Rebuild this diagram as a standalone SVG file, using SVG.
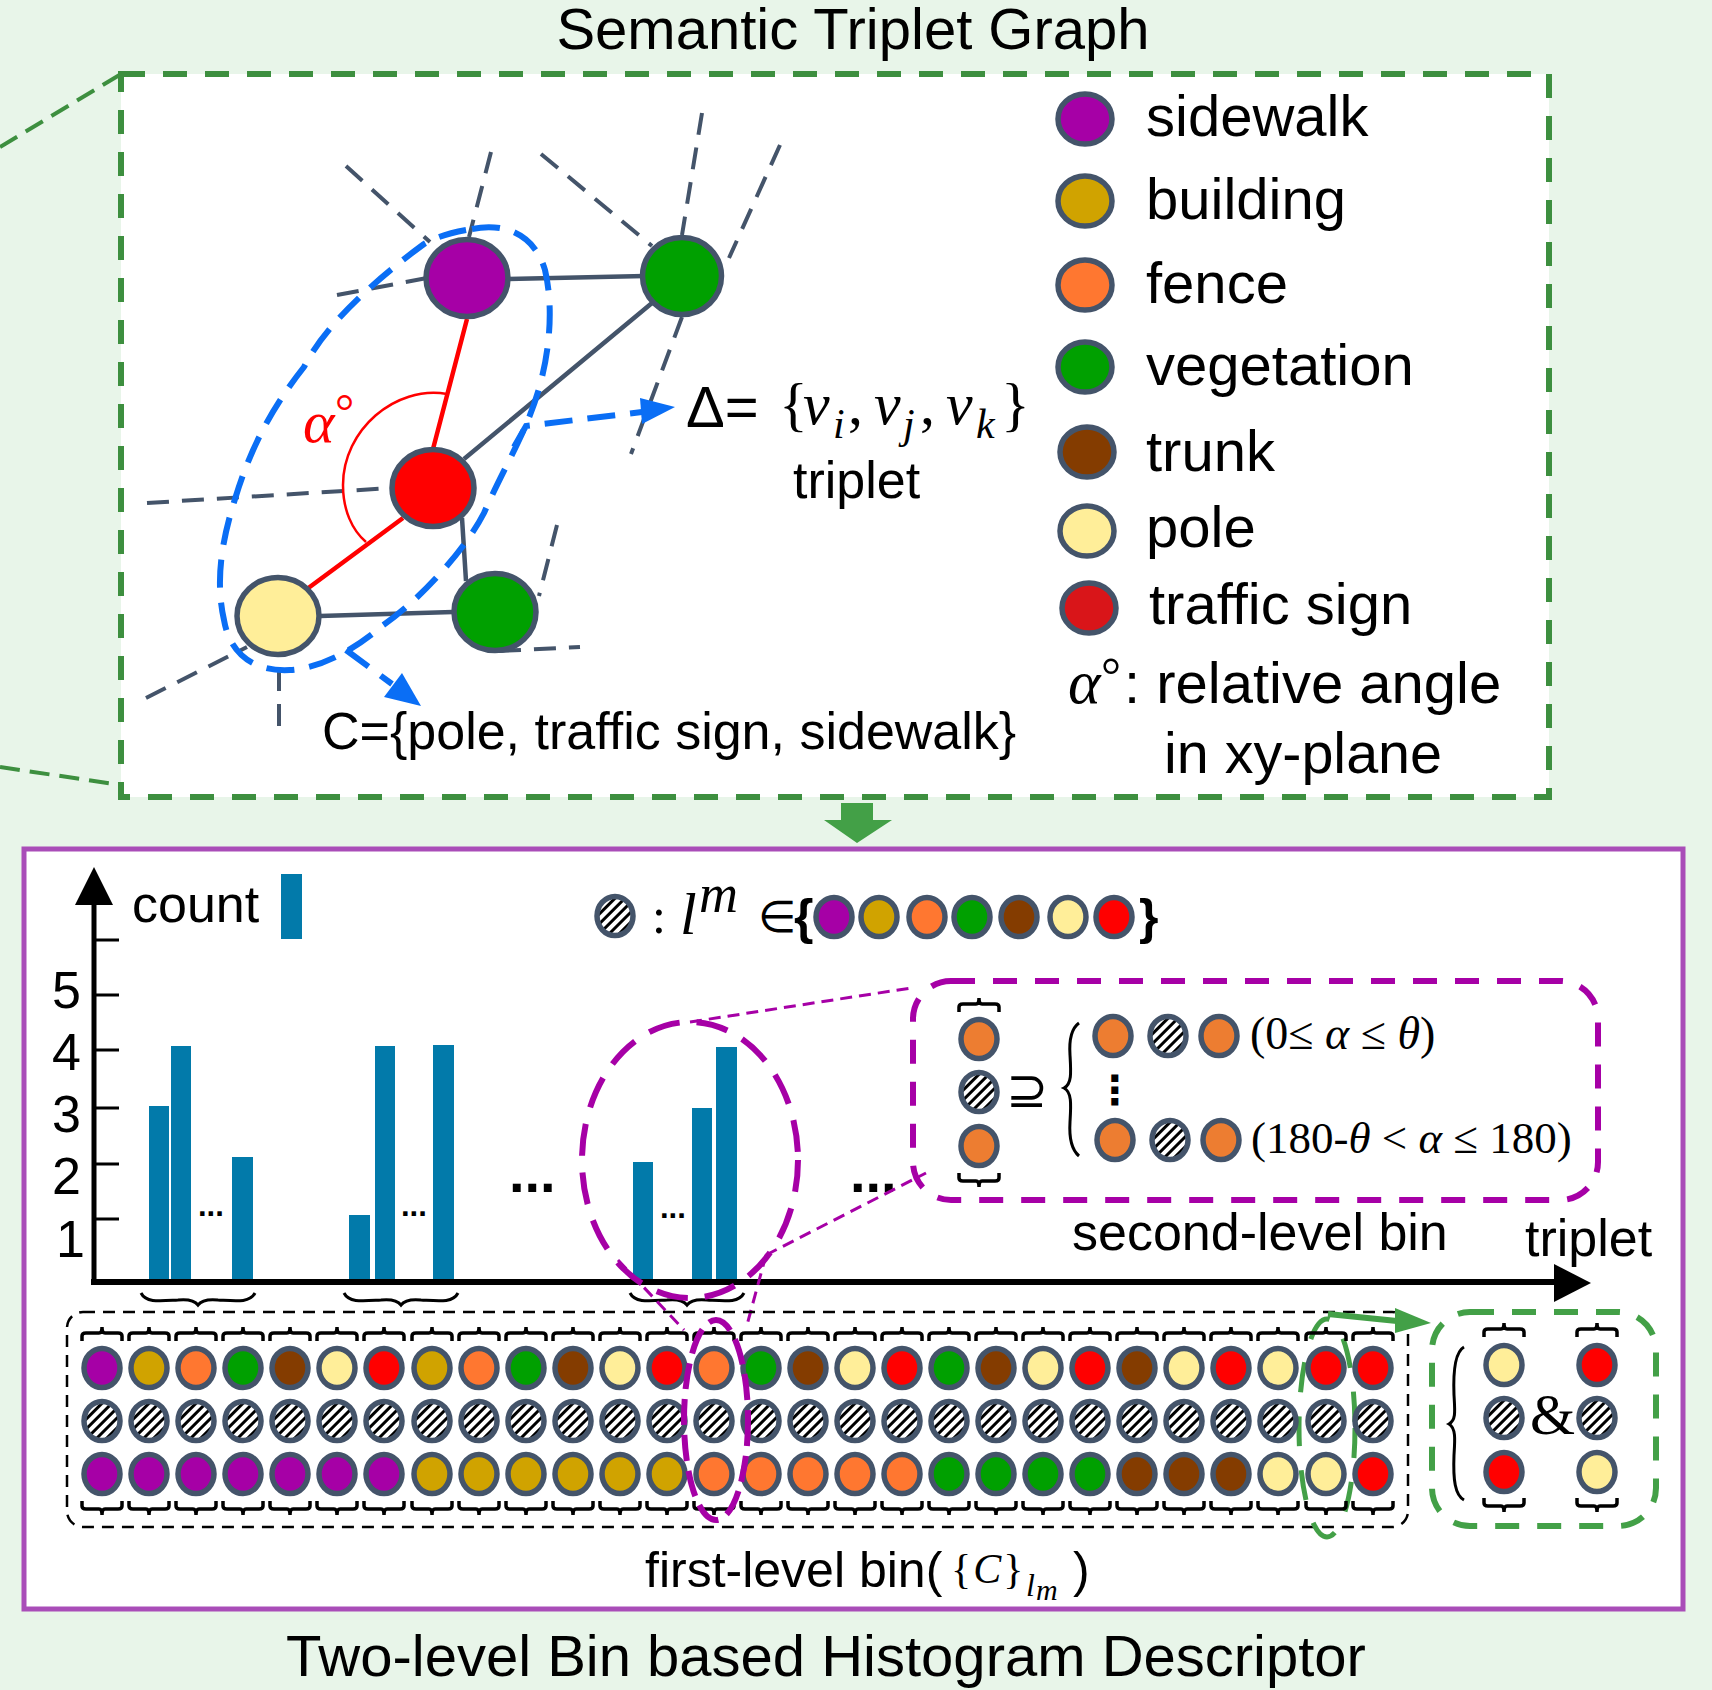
<svg xmlns="http://www.w3.org/2000/svg" width="1712" height="1690" viewBox="0 0 1712 1690">
<style>
text{font-family:"Liberation Sans",Arial,sans-serif;fill:#000}
.s{font-family:"Liberation Serif","Times New Roman",serif}
.i{font-style:italic}
.n{stroke:#44546a;stroke-width:5.5}
.sw{fill:#a600a6}.bd{fill:#d0a300}.fc{fill:#ff7730}.vg{fill:#00a000}.tr{fill:#843c00}.pl{fill:#ffee99}.ts{fill:#f00}.ht{fill:url(#h)}.oc{fill:#ed7d31}
.sl{stroke:#44546a;stroke-width:4.5;fill:none}
.sd{stroke:#44546a;stroke-width:4;fill:none;stroke-dasharray:22 13}
.rd{stroke:#f00;stroke-width:4.5;fill:none}
.bl{stroke:#0a6ef5;stroke-width:6;fill:none;stroke-dasharray:28 15}
.pd{stroke:#a600a6;fill:none}
.bar{fill:#027aaa}
.br{fill:none;stroke:#000;stroke-width:3.5}
.ub{fill:none;stroke:#000;stroke-width:3}
.t52{font-size:52px}.t58{font-size:58px}
</style>
<defs>
<pattern id="h" width="7" height="7" patternUnits="userSpaceOnUse" patternTransform="rotate(45)"><rect width="7" height="7" fill="#fff"/><rect width="3" height="7" fill="#000"/></pattern>
<ellipse id="d" rx="18" ry="19.5"/>
<ellipse id="l" rx="27" ry="25"/>
<path id="bt" class="br" d="M-20 14v-5q0-3 4-3h13q3 0 3-6q0 6 3 6h13q4 0 4 3v5"/>
<path id="bb" class="br" d="M-20 0v5q0 3 4 3h13q3 0 3 6q0-6 3-6h13q4 0 4-3v-5"/>
<path id="ub" class="ub" d="M-57 0C-52 10-38 8-20 7C-10 6-3 8 0 12C3 8 10 6 20 7C38 8 52 10 57 0"/>
</defs>
<rect width="1712" height="1690" fill="#e8f5e9"/>
<text x="853" y="49" font-size="58" text-anchor="middle">Semantic Triplet Graph</text>
<g id="top-panel">
<path d="M0 147L121 74M0 767L121 785" fill="none" stroke="#3d8f3f" stroke-width="4" stroke-dasharray="20 10"/>
<rect x="121" y="74" width="1428" height="723" fill="#fff" stroke="#3d8f3f" stroke-width="6" stroke-dasharray="24 18"/>
</g>
<g id="connectors">
<path class="sd" d="M346 166L430 242M491 152L469 237M541 154L652 246M702 113L682 235M780 145L729 258M337 295L427 278M682 317L631 454M147 503L392 488M557 525L539 596M499 651L580 647M146 698L247 647M279 669L279 728"/>
<path class="sl" d="M505 279L645 276M652 303L464 459M462 518L466 581M320 616L453 612"/>
<path class="rd" d="M467 319L433 449M403 518L307 589"/>
<path d="M447 394C395 385 343 430 343 485C343 510 352 530 366 542" fill="none" stroke="#f00" stroke-width="2.5"/>
<path class="bl" d="M472 229C505 222 535 235 545 270C552 300 552 340 540 385C528 430 505 465 484 513C465 550 420 600 382 626C360 645 325 668 290 670C255 672 230 655 224 620C215 580 222 540 235 499C250 450 270 410 304 367C325 325 375 280 424 244C440 235 455 232 472 229Z"/>
<path class="bl" d="M514 447L526 426L642 412"/>
<path d="M675 407L640 398L642 424Z" fill="#0a6ef5"/>
<path class="bl" d="M346 650L392 684"/>
<path d="M421 706L402 673L384 697Z" fill="#0a6ef5"/>
</g>
<g id="n-purple"><ellipse class="n sw" cx="467" cy="278" rx="41" ry="38.5"/></g>
<g id="n-green-a"><ellipse class="n vg" cx="682" cy="276" rx="39.5" ry="38.5"/></g>
<g id="n-red"><ellipse class="n ts" cx="433" cy="488" rx="41" ry="38.5"/></g>
<g id="n-pole"><ellipse class="n pl" cx="278" cy="616" rx="41" ry="38.5"/></g>
<g id="n-green-b"><ellipse class="n vg" cx="495" cy="612" rx="41" ry="38.5"/></g>
<text class="s i" x="303" y="442" font-size="60" style="fill:#f00">α</text>
<text class="s" x="335" y="428" font-size="48" style="fill:#f00">°</text>
<g id="delta">
<text x="686" y="427" font-size="58">Δ=</text>
<text class="s" font-size="60" y="424"><tspan x="779">{</tspan><tspan x="803" class="i">v</tspan><tspan x="833" dy="14" font-size="42" class="i">i</tspan><tspan x="848" dy="-14">,</tspan><tspan x="874" class="i">v</tspan><tspan x="903" dy="14" font-size="42" class="i">j</tspan><tspan x="920" dy="-14">,</tspan><tspan x="946" class="i">v</tspan><tspan x="976" dy="14" font-size="42" class="i">k</tspan><tspan x="1001" dy="-14">}</tspan></text>
</g>
<text class="t52" x="793" y="498">triplet</text>
<text class="t52" x="322" y="749">C={pole, traffic sign, sidewalk}</text>
<g id="legend">
<use href="#l" class="n sw" x="1085" y="119"/><text class="t58" x="1146" y="136">sidewalk</text>
<use href="#l" class="n bd" x="1085" y="201"/><text class="t58" x="1146" y="219">building</text>
<use href="#l" class="n fc" x="1085" y="285"/><text class="t58" x="1146" y="303">fence</text>
<use href="#l" class="n vg" x="1085" y="367"/><text class="t58" x="1146" y="385">vegetation</text>
<use href="#l" class="n tr" x="1087" y="452"/><text class="t58" x="1146" y="471">trunk</text>
<use href="#l" class="n pl" x="1087" y="531"/><text class="t58" x="1146" y="547">pole</text>
<use href="#l" class="n" style="fill:#d91519" x="1089" y="608"/><text class="t58" x="1149" y="624">traffic sign</text>
<text class="s i" x="1068" y="703" font-size="62">α</text><text class="s" x="1101" y="692" font-size="50">°</text>
<text class="t58" x="1124" y="703">: relative angle</text>
<text x="1164" y="773" font-size="57.5">in xy-plane</text>
</g>
<path id="down-arrow" d="M841 803H873V820H892L857 843L824 820H841Z" fill="#43a047"/>
<rect id="hist-panel" x="24" y="849" width="1659" height="760" fill="#fff" stroke="#a94db8" stroke-width="5"/>
<g id="chart">
<path d="M94 1282V900" stroke="#000" stroke-width="5" fill="none"/>
<path d="M94 867L113 905H75Z"/>
<path d="M94 940H119M94 995H119M94 1050H119M94 1108H119M94 1164H119M94 1219H119" stroke="#000" stroke-width="3" fill="none"/>
<path d="M91 1282H1560" stroke="#000" stroke-width="6" fill="none"/>
<path d="M1591 1283L1554 1264V1302Z"/>
<g class="t52"><text x="52" y="1008">5</text><text x="52" y="1070">4</text><text x="52" y="1132">3</text><text x="52" y="1194">2</text><text x="56" y="1257">1</text></g>
<rect class="bar" x="149" y="1106" width="20" height="173"/><rect class="bar" x="171" y="1046" width="20" height="233"/><rect class="bar" x="232" y="1157" width="21" height="122"/>
<rect class="bar" x="349" y="1215" width="21" height="64"/><rect class="bar" x="375" y="1046" width="20" height="233"/><rect class="bar" x="433" y="1045" width="21" height="234"/>
<rect class="bar" x="633" y="1162" width="20" height="117"/><rect class="bar" x="692" y="1108" width="20" height="171"/><rect class="bar" x="716" y="1047" width="21" height="232"/>
<rect class="bar" x="281" y="874" width="21" height="65"/>
<text class="t52" x="132" y="922">count</text>
<g font-weight="bold" font-size="31"><text x="198" y="1216">...</text><text x="401" y="1216">...</text><text x="660" y="1218">...</text></g>
<g font-weight="bold" font-size="56"><text x="509" y="1192">...</text><text x="850" y="1192">...</text></g>
<use href="#ub" x="198" y="1293"/><use href="#ub" x="401" y="1293"/><use href="#ub" x="687" y="1293"/>
</g>
<g id="key">
<use href="#d" class="n ht" x="615" y="916"/>
<text class="s" x="652" y="933" font-size="50">:</text>
<text class="s i" x="680" y="934" font-size="60">l</text>
<text class="s i" x="699" y="912" font-size="54">m</text>
<text class="s" x="758" y="932" font-size="44">∈</text>
<text x="794" y="934" font-size="50" font-weight="bold">{</text>
<use href="#d" class="n sw" x="834" y="917"/><use href="#d" class="n bd" x="879" y="917"/><use href="#d" class="n fc" x="927" y="917"/><use href="#d" class="n vg" x="972" y="917"/><use href="#d" class="n tr" x="1019" y="917"/><use href="#d" class="n pl" x="1068" y="917"/><use href="#d" class="n ts" x="1114" y="917"/>
<text x="1139" y="934" font-size="50" font-weight="bold">}</text>
</g>
<g id="second-level">
<ellipse class="pd" stroke-width="6" stroke-dasharray="32 17" cx="690" cy="1160" rx="108" ry="138"/>
<path class="pd" stroke-width="3" stroke-dasharray="12 7" d="M690 1022L911 988M766 1255L926 1173M766 1255L747 1325M618 1260L684 1330"/>
<rect class="pd" stroke-width="6" stroke-dasharray="24 18" x="913" y="981" width="685" height="219" rx="38"/>
<use href="#bt" x="979" y="998"/>
<use href="#d" class="n oc" x="979" y="1039"/><use href="#d" class="n ht" x="979" y="1092"/><use href="#d" class="n oc" x="979" y="1146"/>
<use href="#bb" x="979" y="1173"/>
<text x="1006" y="1107" font-size="50" style="font-family:'DejaVu Sans',sans-serif">⊇</text>
<path class="ub" stroke-width="2.5" d="M1079 1023C1072 1028 1069 1040 1070 1055C1071 1072 1072 1084 1064 1088C1072 1092 1071 1105 1070 1122C1069 1138 1072 1150 1079 1156"/>
<use href="#d" class="n oc" x="1113" y="1036"/><use href="#d" class="n ht" x="1168" y="1036"/><use href="#d" class="n oc" x="1219" y="1036"/>
<use href="#d" class="n oc" x="1115" y="1140"/><use href="#d" class="n ht" x="1170" y="1140"/><use href="#d" class="n oc" x="1221" y="1140"/>
<text x="1115" y="1104" font-size="40" text-anchor="middle" font-weight="bold" style="font-family:'DejaVu Sans',sans-serif">⋮</text>
<text class="s" x="1250" y="1049" font-size="46">(0≤ <tspan class="i">α</tspan> ≤ <tspan class="i">θ</tspan>)</text>
<text class="s" x="1251" y="1153" font-size="45">(180-<tspan class="i">θ</tspan> &lt; <tspan class="i">α</tspan> ≤ 180)</text>
<text class="t52" x="1072" y="1250">second-level bin</text>
<text class="t52" x="1525" y="1256">triplet</text>
</g>
<g id="first-level">
<rect x="67" y="1312" width="1341" height="215" rx="16" fill="none" stroke="#000" stroke-width="2.5" stroke-dasharray="12 8"/>
<ellipse cx="1327" cy="1428" rx="28" ry="109" fill="none" stroke="#43a047" stroke-width="5" stroke-dasharray="30 24"/>
<g id="row-1"><use href="#d" class="n sw" x="102" y="1368"/><use href="#d" class="n bd" x="149" y="1368"/><use href="#d" class="n fc" x="196" y="1368"/><use href="#d" class="n vg" x="243" y="1368"/><use href="#d" class="n tr" x="290" y="1368"/><use href="#d" class="n pl" x="337" y="1368"/><use href="#d" class="n ts" x="384" y="1368"/><use href="#d" class="n bd" x="432" y="1368"/><use href="#d" class="n fc" x="479" y="1368"/><use href="#d" class="n vg" x="526" y="1368"/><use href="#d" class="n tr" x="573" y="1368"/><use href="#d" class="n pl" x="620" y="1368"/><use href="#d" class="n ts" x="667" y="1368"/><use href="#d" class="n fc" x="714" y="1368"/><use href="#d" class="n vg" x="761" y="1368"/><use href="#d" class="n tr" x="808" y="1368"/><use href="#d" class="n pl" x="855" y="1368"/><use href="#d" class="n ts" x="902" y="1368"/><use href="#d" class="n vg" x="949" y="1368"/><use href="#d" class="n tr" x="996" y="1368"/><use href="#d" class="n pl" x="1043" y="1368"/><use href="#d" class="n ts" x="1090" y="1368"/><use href="#d" class="n tr" x="1137" y="1368"/><use href="#d" class="n pl" x="1184" y="1368"/><use href="#d" class="n ts" x="1231" y="1368"/><use href="#d" class="n pl" x="1278" y="1368"/><use href="#d" class="n ts" x="1326" y="1368"/><use href="#d" class="n ts" x="1373" y="1368"/></g>
<g id="row-2"><use href="#d" class="n ht" x="102" y="1421"/><use href="#d" class="n ht" x="149" y="1421"/><use href="#d" class="n ht" x="196" y="1421"/><use href="#d" class="n ht" x="243" y="1421"/><use href="#d" class="n ht" x="290" y="1421"/><use href="#d" class="n ht" x="337" y="1421"/><use href="#d" class="n ht" x="384" y="1421"/><use href="#d" class="n ht" x="432" y="1421"/><use href="#d" class="n ht" x="479" y="1421"/><use href="#d" class="n ht" x="526" y="1421"/><use href="#d" class="n ht" x="573" y="1421"/><use href="#d" class="n ht" x="620" y="1421"/><use href="#d" class="n ht" x="667" y="1421"/><use href="#d" class="n ht" x="714" y="1421"/><use href="#d" class="n ht" x="761" y="1421"/><use href="#d" class="n ht" x="808" y="1421"/><use href="#d" class="n ht" x="855" y="1421"/><use href="#d" class="n ht" x="902" y="1421"/><use href="#d" class="n ht" x="949" y="1421"/><use href="#d" class="n ht" x="996" y="1421"/><use href="#d" class="n ht" x="1043" y="1421"/><use href="#d" class="n ht" x="1090" y="1421"/><use href="#d" class="n ht" x="1137" y="1421"/><use href="#d" class="n ht" x="1184" y="1421"/><use href="#d" class="n ht" x="1231" y="1421"/><use href="#d" class="n ht" x="1278" y="1421"/><use href="#d" class="n ht" x="1326" y="1421"/><use href="#d" class="n ht" x="1373" y="1421"/></g>
<g id="row-3"><use href="#d" class="n sw" x="102" y="1474"/><use href="#d" class="n sw" x="149" y="1474"/><use href="#d" class="n sw" x="196" y="1474"/><use href="#d" class="n sw" x="243" y="1474"/><use href="#d" class="n sw" x="290" y="1474"/><use href="#d" class="n sw" x="337" y="1474"/><use href="#d" class="n sw" x="384" y="1474"/><use href="#d" class="n bd" x="432" y="1474"/><use href="#d" class="n bd" x="479" y="1474"/><use href="#d" class="n bd" x="526" y="1474"/><use href="#d" class="n bd" x="573" y="1474"/><use href="#d" class="n bd" x="620" y="1474"/><use href="#d" class="n bd" x="667" y="1474"/><use href="#d" class="n fc" x="714" y="1474"/><use href="#d" class="n fc" x="761" y="1474"/><use href="#d" class="n fc" x="808" y="1474"/><use href="#d" class="n fc" x="855" y="1474"/><use href="#d" class="n fc" x="902" y="1474"/><use href="#d" class="n vg" x="949" y="1474"/><use href="#d" class="n vg" x="996" y="1474"/><use href="#d" class="n vg" x="1043" y="1474"/><use href="#d" class="n vg" x="1090" y="1474"/><use href="#d" class="n tr" x="1137" y="1474"/><use href="#d" class="n tr" x="1184" y="1474"/><use href="#d" class="n tr" x="1231" y="1474"/><use href="#d" class="n pl" x="1278" y="1474"/><use href="#d" class="n pl" x="1326" y="1474"/><use href="#d" class="n ts" x="1373" y="1474"/></g>
<g id="braces-top"><use href="#bt" x="102" y="1327"/><use href="#bt" x="149" y="1327"/><use href="#bt" x="196" y="1327"/><use href="#bt" x="243" y="1327"/><use href="#bt" x="290" y="1327"/><use href="#bt" x="337" y="1327"/><use href="#bt" x="384" y="1327"/><use href="#bt" x="432" y="1327"/><use href="#bt" x="479" y="1327"/><use href="#bt" x="526" y="1327"/><use href="#bt" x="573" y="1327"/><use href="#bt" x="620" y="1327"/><use href="#bt" x="667" y="1327"/><use href="#bt" x="714" y="1327"/><use href="#bt" x="761" y="1327"/><use href="#bt" x="808" y="1327"/><use href="#bt" x="855" y="1327"/><use href="#bt" x="902" y="1327"/><use href="#bt" x="949" y="1327"/><use href="#bt" x="996" y="1327"/><use href="#bt" x="1043" y="1327"/><use href="#bt" x="1090" y="1327"/><use href="#bt" x="1137" y="1327"/><use href="#bt" x="1184" y="1327"/><use href="#bt" x="1231" y="1327"/><use href="#bt" x="1278" y="1327"/><use href="#bt" x="1326" y="1327"/><use href="#bt" x="1373" y="1327"/></g>
<g id="braces-bottom"><use href="#bb" x="102" y="1501"/><use href="#bb" x="149" y="1501"/><use href="#bb" x="196" y="1501"/><use href="#bb" x="243" y="1501"/><use href="#bb" x="290" y="1501"/><use href="#bb" x="337" y="1501"/><use href="#bb" x="384" y="1501"/><use href="#bb" x="432" y="1501"/><use href="#bb" x="479" y="1501"/><use href="#bb" x="526" y="1501"/><use href="#bb" x="573" y="1501"/><use href="#bb" x="620" y="1501"/><use href="#bb" x="667" y="1501"/><use href="#bb" x="714" y="1501"/><use href="#bb" x="761" y="1501"/><use href="#bb" x="808" y="1501"/><use href="#bb" x="855" y="1501"/><use href="#bb" x="902" y="1501"/><use href="#bb" x="949" y="1501"/><use href="#bb" x="996" y="1501"/><use href="#bb" x="1043" y="1501"/><use href="#bb" x="1090" y="1501"/><use href="#bb" x="1137" y="1501"/><use href="#bb" x="1184" y="1501"/><use href="#bb" x="1231" y="1501"/><use href="#bb" x="1278" y="1501"/><use href="#bb" x="1326" y="1501"/><use href="#bb" x="1373" y="1501"/></g>
<ellipse class="pd" stroke-width="6" stroke-dasharray="26 10" cx="716" cy="1420" rx="32" ry="100"/>
</g>
<g id="pair-box">
<path d="M1328 1314L1397 1321" stroke="#43a047" stroke-width="6" fill="none"/>
<path d="M1431 1323L1395 1308V1333Z" fill="#43a047"/>
<rect x="1432" y="1312" width="224" height="214" rx="38" fill="none" stroke="#43a047" stroke-width="6" stroke-dasharray="24 18"/>
<path class="ub" stroke-width="2.5" d="M1464 1347C1455 1352 1453 1370 1454 1395C1455 1412 1456 1420 1449 1424C1456 1428 1455 1440 1454 1455C1453 1480 1455 1495 1464 1500"/>
<use href="#bt" x="1504" y="1323"/><use href="#bt" x="1597" y="1323"/>
<use href="#d" class="n pl" x="1504" y="1365"/><use href="#d" class="n ts" x="1597" y="1365"/>
<use href="#d" class="n ht" x="1504" y="1418"/><use href="#d" class="n ht" x="1597" y="1418"/>
<use href="#d" class="n ts" x="1504" y="1472"/><use href="#d" class="n pl" x="1597" y="1472"/>
<use href="#bb" x="1504" y="1498"/><use href="#bb" x="1597" y="1498"/>
<text class="s" x="1530" y="1434" font-size="58">&amp;</text>
</g>
<g id="first-level-label">
<text x="645" y="1587" font-size="50">first-level bin(</text>
<text class="s" x="951" y="1583" font-size="42">{<tspan class="i" dx="2">C</tspan><tspan dx="2">}</tspan></text>
<text class="s i" x="1026" y="1596" font-size="32">l</text><text class="s i" x="1036" y="1600" font-size="30">m</text>
<text x="1073" y="1587" font-size="50">)</text>
</g>
<text x="826" y="1676" font-size="58" text-anchor="middle">Two-level Bin based Histogram Descriptor</text>
</svg>
